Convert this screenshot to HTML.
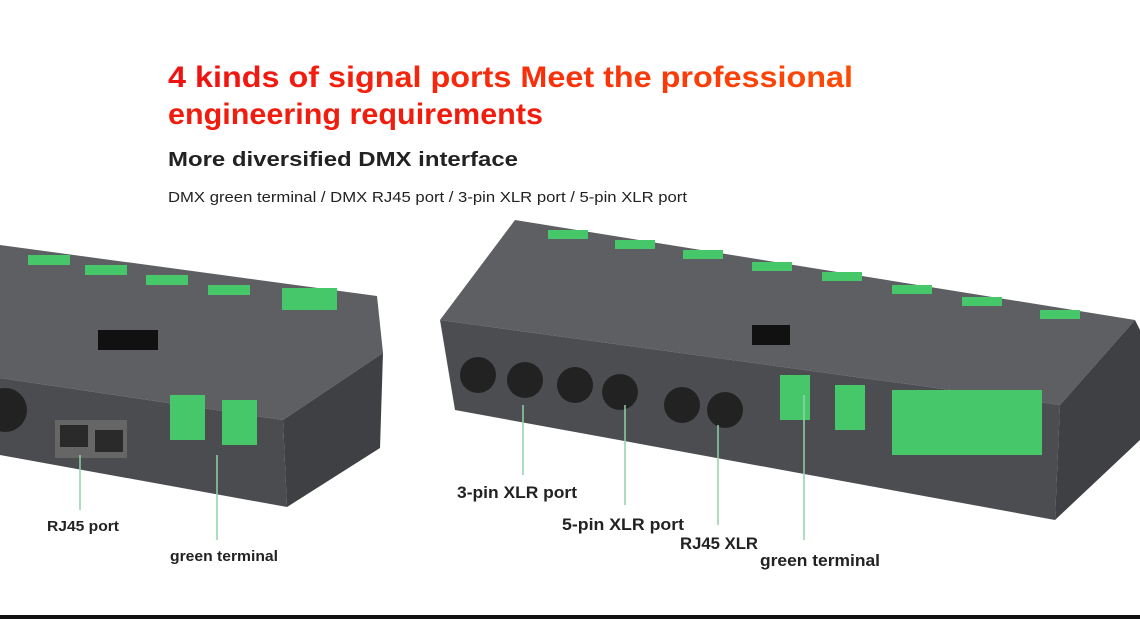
<!DOCTYPE html>
<html><head><meta charset="utf-8"><style>
html,body{margin:0;padding:0;background:#fff;}
svg{display:block;}
text{font-family:"Liberation Sans",sans-serif;}
</style></head><body>
<svg width="1140" height="619" viewBox="0 0 1140 619" xmlns="http://www.w3.org/2000/svg">
<defs>
<linearGradient id="tg" x1="0" x2="1" y1="0" y2="0"><stop offset="0" stop-color="#ee1111"/><stop offset="1" stop-color="#ff4a05"/></linearGradient>
</defs>
<rect width="1140" height="619" fill="#fff"/>
<text x="168" y="87" font-size="30" font-weight="bold" fill="url(#tg)" textLength="685" lengthAdjust="spacingAndGlyphs">4 kinds of signal ports Meet the professional</text>
<text x="168" y="124" font-size="30" font-weight="bold" fill="#f01d0e" textLength="375" lengthAdjust="spacingAndGlyphs">engineering requirements</text>
<text x="168" y="166" font-size="20" font-weight="bold" fill="#222" textLength="350" lengthAdjust="spacingAndGlyphs">More diversified DMX interface</text>
<text x="168" y="202" font-size="15" fill="#222" textLength="519" lengthAdjust="spacingAndGlyphs">DMX green terminal / DMX RJ45 port / 3-pin XLR port / 5-pin XLR port</text>

<!-- left device -->
<polygon points="0,245 377,296 383,353 283,420 0,378" fill="#5d5f63"/>
<polygon points="0,378 283,420 287,507 0,455" fill="#4a4c50"/>
<polygon points="283,420 383,353 380,448 287,507" fill="#3e4044"/>
<g fill="#46c86a">
<rect x="28" y="255" width="42" height="10"/><rect x="85" y="265" width="42" height="10"/>
<rect x="146" y="275" width="42" height="10"/><rect x="208" y="285" width="42" height="10"/>
<rect x="282" y="288" width="55" height="22"/>
<rect x="170" y="395" width="35" height="45"/><rect x="222" y="400" width="35" height="45"/>
</g>
<rect x="98" y="330" width="60" height="20" fill="#111"/>
<circle cx="5" cy="410" r="22" fill="#222"/>
<rect x="55" y="420" width="72" height="38" fill="#666"/>
<rect x="60" y="425" width="28" height="22" fill="#2a2a2a"/><rect x="95" y="430" width="28" height="22" fill="#2a2a2a"/>

<!-- right device -->
<polygon points="515,220 1135,320 1060,405 440,320" fill="#5d5f63"/>
<polygon points="440,320 1060,405 1055,520 455,410" fill="#4b4d51"/>
<polygon points="1060,405 1135,320 1140,330 1140,440 1055,520" fill="#3e4044"/>
<g fill="#46c86a">
<rect x="548" y="230" width="40" height="9"/><rect x="615" y="240" width="40" height="9"/>
<rect x="683" y="250" width="40" height="9"/><rect x="752" y="262" width="40" height="9"/>
<rect x="822" y="272" width="40" height="9"/><rect x="892" y="285" width="40" height="9"/>
<rect x="962" y="297" width="40" height="9"/><rect x="1040" y="310" width="40" height="9"/>
<rect x="780" y="375" width="30" height="45"/><rect x="835" y="385" width="30" height="45"/>
<rect x="892" y="390" width="150" height="65"/>
</g>
<rect x="752" y="325" width="38" height="20" fill="#111"/>
<circle cx="478" cy="375" r="18" fill="#222"/><circle cx="525" cy="380" r="18" fill="#222"/>
<circle cx="575" cy="385" r="18" fill="#222"/><circle cx="620" cy="392" r="18" fill="#222"/>
<circle cx="682" cy="405" r="18" fill="#222"/><circle cx="725" cy="410" r="18" fill="#222"/>

<!-- leader lines -->
<g stroke="#8fd3a8" stroke-width="1.5">
<line x1="80" y1="455" x2="80" y2="510"/><line x1="217" y1="455" x2="217" y2="540"/>
<line x1="523" y1="405" x2="523" y2="475"/><line x1="625" y1="405" x2="625" y2="505"/>
<line x1="718" y1="425" x2="718" y2="525"/><line x1="804" y1="395" x2="804" y2="540"/>
</g>
<g font-weight="bold" fill="#222">
<text x="47" y="531" font-size="15" textLength="72" lengthAdjust="spacingAndGlyphs">RJ45 port</text>
<text x="170" y="561" font-size="15" textLength="108" lengthAdjust="spacingAndGlyphs">green terminal</text>
<text x="457" y="498" font-size="17" textLength="120" lengthAdjust="spacingAndGlyphs">3-pin XLR port</text>
<text x="562" y="530" font-size="17" textLength="122" lengthAdjust="spacingAndGlyphs">5-pin XLR port</text>
<text x="680" y="549" font-size="17" textLength="78" lengthAdjust="spacingAndGlyphs">RJ45 XLR</text>
<text x="760" y="566" font-size="17" textLength="120" lengthAdjust="spacingAndGlyphs">green terminal</text>
</g>
<rect x="0" y="615" width="1140" height="4" fill="#111"/>
</svg>
</body></html>
